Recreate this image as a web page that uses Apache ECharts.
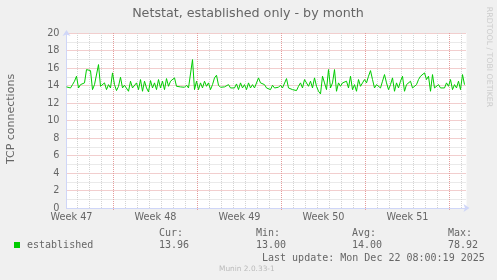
<!DOCTYPE html>
<html>
<head>
<meta charset="utf-8">
<script src="https://cdn.jsdelivr.net/npm/echarts@6/dist/echarts.min.js"></script>
<style>
html,body{margin:0;padding:0;background:#f0f0f0;}
#c{width:497px;height:280px;}
</style>
</head>
<body>
<div id="c"></div>
<script>
// ---- data ----
const titleText = 'Netstat, established only - by month';
const yAxisTitle = 'TCP connections';
const seriesName = 'established';
const sampleStepHours = 4; // one sample every 4 hours, hours counted from the left edge
const established = [
  13.84,13.91,13.72,14.10,14.49,15.06,13.72,14.10,13.91,14.30,
  15.82,15.63,15.70,13.53,14.10,13.91,16.39,13.91,13.72,14.30,
  13.53,14.10,13.72,15.44,14.10,13.42,13.91,14.94,13.72,14.03,
  13.84,13.34,14.49,13.72,13.91,14.30,13.53,14.68,13.34,14.49,
  13.72,13.27,14.56,13.72,14.30,13.53,14.68,13.72,14.49,13.53,
  14.79,13.91,14.49,14.30,14.87,13.91,13.99,13.84,13.91,13.80,
  14.03,13.72,13.53,16.96,13.53,14.49,13.53,14.30,13.72,14.49,
  13.91,14.30,13.53,14.10,14.87,15.17,14.03,13.80,13.72,13.84,
  13.72,14.10,13.72,13.91,13.72,14.18,13.53,14.30,13.72,14.10,
  13.53,14.30,13.72,14.10,13.72,13.72,14.87,14.30,14.49,14.10,
  13.72,13.91,13.53,14.03,13.72,13.91,13.80,14.03,13.72,13.84,
  14.79,13.72,13.91,13.53,13.72,13.42,13.91,14.30,13.72,14.68,
  14.87,13.91,14.49,13.72,14.87,13.91,13.34,13.04,15.06,14.30,
  13.53,15.82,13.72,14.30,15.82,13.34,14.30,13.91,14.30,14.10,
  14.49,13.72,15.06,13.53,14.10,13.34,14.68,13.91,14.30,14.68,
  14.30,15.06,15.70,14.68,13.72,14.10,13.91,13.72,14.49,15.25,
  14.30,13.53,14.10,14.87,13.34,14.30,13.72,14.49,15.06,13.34,
  14.10,13.91,14.49,13.72,13.72,14.10,14.68,15.06,14.87,15.44,
  14.68,15.06,13.34,15.25,13.72,13.53,14.10,13.72,13.91,13.72,
  14.30,13.91,14.68,13.53,14.10,13.72,14.49,13.53,15.25,14.10
];
const xMaxHours = 800;
const weekLabels = ['Week 47','Week 48','Week 49','Week 50','Week 51'];
const weekLabelHours = [10,178,346,514,682];
const weekStartHours = [94,262,430,598,766];
const dayHours = [22,46,70,118,142,166,190,214,238,286,310,334,358,382,406,454,478,502,526,550,574,622,646,670,694,718,742,790];
const yMin = 0, yMax = 20, yInterval = 2;
const statLabels = ['Cur:','Min:','Avg:','Max:'];
const statValues = ['13.96','13.00','14.00','78.92'];
const lastUpdate = 'Last update: Mon Dec 22 08:00:19 2025';
const footer = 'Munin 2.0.33-1';
const watermark = 'RRDTOOL / TOBI OETIKER';

// ---- chart ----
const chart = echarts.init(document.getElementById('c'), null, {renderer: 'canvas'});
const lineData = established.map((v, i) => [i * sampleStepHours, v]);
const GRID = '#d4d4d4', MGRID = '#e49c9c', AXIS = '#cfd6f8', FONT = '#666666';
const sans = '"DejaVu Sans"', mono = '"DejaVu Sans Mono"';
const statX = [159, 256, 352, 448];

const graphics = [
  {type:'text', x:248, y:13.5, style:{text:titleText, font:'12.7px ' + sans, fill:FONT, align:'center', verticalAlign:'middle'}},
  {type:'text', x:11, y:119, rotation:Math.PI/2, style:{text:yAxisTitle, font:'11px ' + sans, fill:FONT, align:'center', verticalAlign:'middle'}},
  {type:'text', x:489, y:57, rotation:-Math.PI/2, style:{text:watermark, font:'7.8px ' + sans, fill:'#cccccc', align:'center', verticalAlign:'middle'}},
  {type:'rect', shape:{x:14, y:242, width:6, height:6}, style:{fill:'#00cc00'}},
  {type:'text', x:27, y:245.5, style:{text:seriesName, font:'10px ' + mono, fill:FONT, align:'left', verticalAlign:'middle'}},
  {type:'text', x:262, y:258, style:{text:lastUpdate, font:'10px ' + mono, fill:FONT, align:'left', verticalAlign:'middle'}},
  {type:'text', x:219, y:269, style:{text:footer, font:'7.4px ' + sans, fill:'#bbbbbb', align:'left', verticalAlign:'middle'}}
];
statLabels.forEach((s, i) => {
  graphics.push({type:'text', x:statX[i], y:233.5, style:{text:s, font:'10px ' + mono, fill:FONT, align:'left', verticalAlign:'middle'}});
  graphics.push({type:'text', x:statX[i], y:245.5, style:{text:statValues[i], font:'10px ' + mono, fill:FONT, align:'left', verticalAlign:'middle'}});
});

function gridLines(hours, color, tick) {
  return {
    type: 'custom', silent: true, z: 1, clip: false,
    data: hours.map(h => [h]),
    encode: {x: 0},
    renderItem: function (params, api) {
      const top = api.coord([api.value(0), yMax]);
      const bot = api.coord([api.value(0), yMin]);
      const x = Math.round(top[0] - 0.5) + 0.5;
      return {
        type: 'line',
        shape: {x1: x, y1: top[1], x2: x, y2: bot[1] + tick},
        style: {stroke: color, lineWidth: 1, lineDash: [1, 1], fill: null}
      };
    }
  };
}

chart.setOption({
  animation: false,
  backgroundColor: '#f0f0f0',
  grid: {left: 66.5, top: 33, width: 400, height: 175, backgroundColor: '#ffffff', show: true, borderWidth: 0},
  xAxis: {
    type: 'value', min: 0, max: xMaxHours,
    axisLine: {show: true, lineStyle: {color: AXIS, width: 1}, symbol: ['none', 'arrow'], symbolSize: [6, 6], symbolOffset: [0, 3]},
    axisTick: {show: false},
    axisLabel: {customValues: weekLabelHours, formatter: (v) => weekLabels[weekLabelHours.indexOf(v)] || '', color: FONT, fontFamily: 'DejaVu Sans', fontSize: 9.7, margin: 4, showMinLabel: true, showMaxLabel: true},
    splitLine: {show: false}
  },
  yAxis: {
    type: 'value', min: yMin, max: yMax, interval: yInterval,
    axisLine: {show: true, lineStyle: {color: AXIS, width: 1}, symbol: ['none', 'arrow'], symbolSize: [6, 6], symbolOffset: [0, 3]},
    axisTick: {show: false},
    axisLabel: {color: FONT, fontFamily: 'DejaVu Sans', fontSize: 9.7, margin: 7},
    splitLine: {show: true, lineStyle: {color: MGRID, type: [1, 1], width: 1}},
    minorTick: {show: false, splitNumber: 2},
    minorSplitLine: {show: true, lineStyle: {color: GRID, type: [1, 1], width: 1}}
  },
  series: [
    gridLines(dayHours, GRID, 0),
    gridLines(weekStartHours, MGRID, 3),
    {
      name: seriesName, type: 'line', data: lineData, showSymbol: false, z: 5,
      lineStyle: {color: '#00cc00', width: 1}, itemStyle: {color: '#00cc00'}
    }
  ],
  graphic: graphics
});
</script>
</body>
</html>
